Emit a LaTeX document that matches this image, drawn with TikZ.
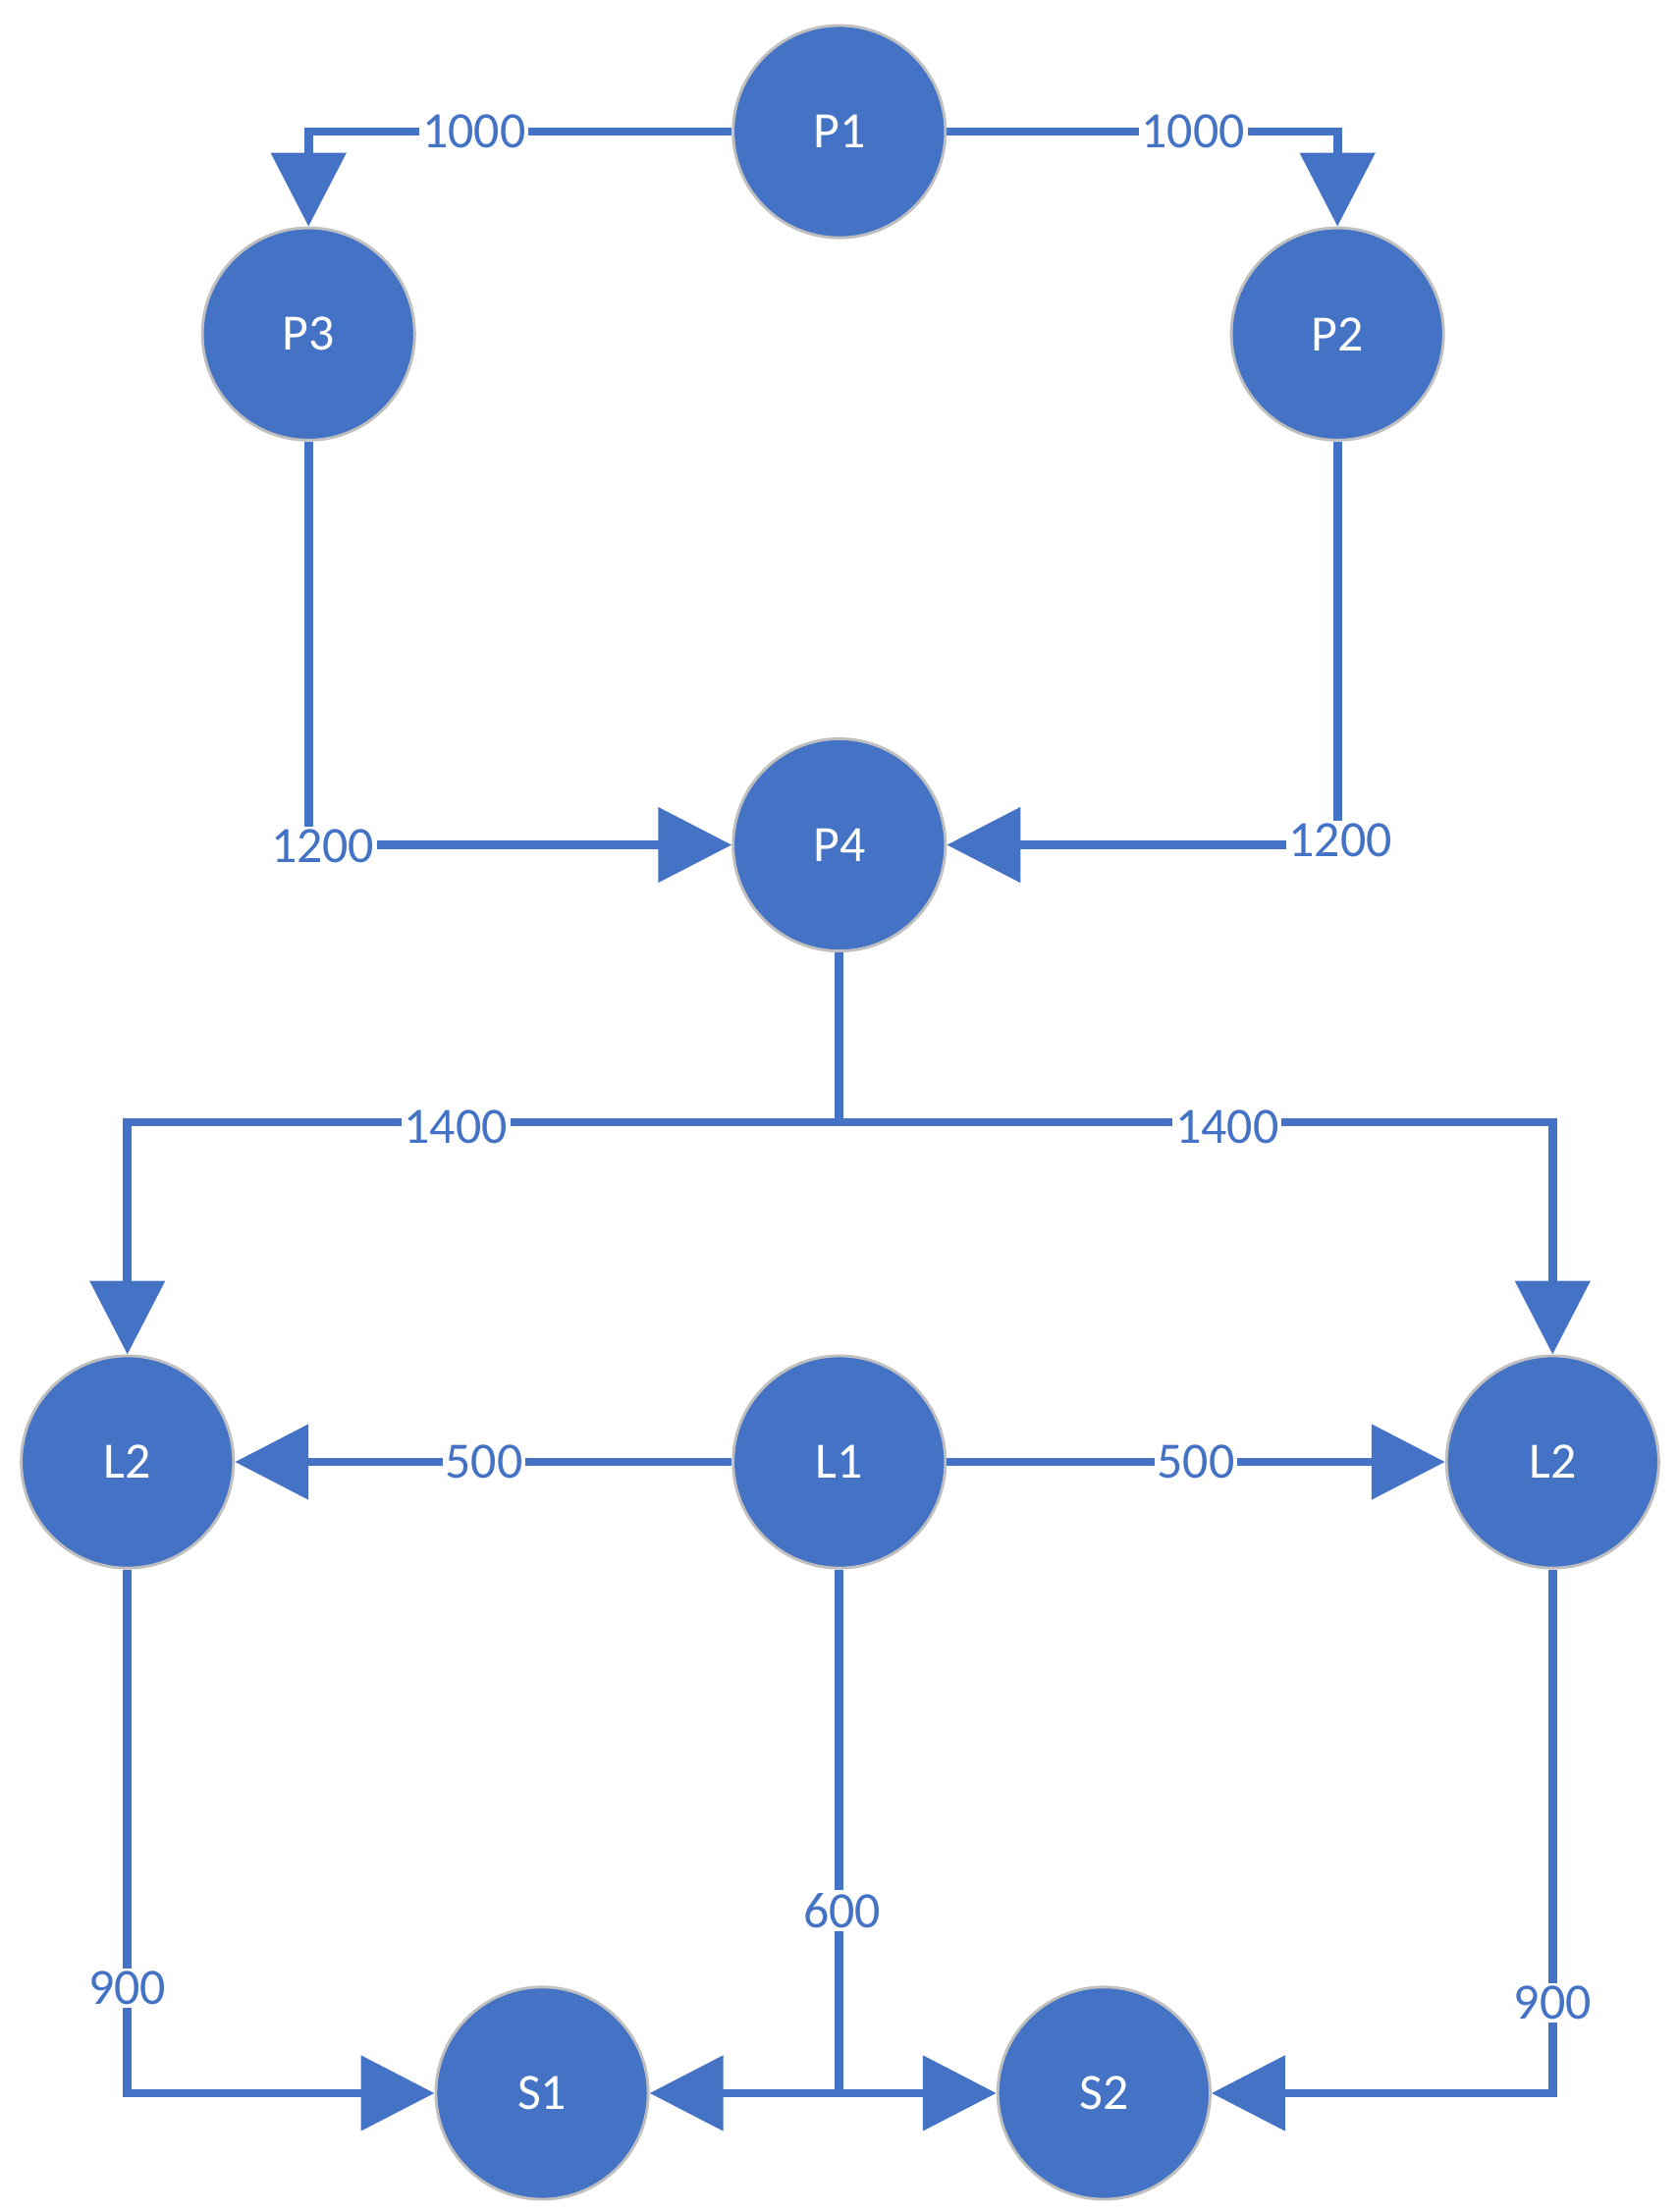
\documentclass[tikz,border=0pt]{standalone}
\usepackage{fontspec}
\setmainfont{Carlito}
\usetikzlibrary{arrows.meta}
\definecolor{bl}{HTML}{4472C4}
\begin{document}
\begin{tikzpicture}[x=0.5pt,y=-0.5pt,
 c/.style={circle,fill=bl,draw=black!25,line width=1pt,minimum size=75pt,inner sep=0pt,text=white,font=\fontsize{18}{20}\selectfont},
 e/.style={draw=bl,line width=3pt,-{Triangle[length=26pt,width=26pt]}},
 p/.style={draw=bl,line width=3pt},
 l/.style={fill=white,text=bl,inner sep=1pt,font=\fontsize{18}{20}\selectfont}]
\useasboundingbox (0,0) rectangle (1185,1563);
\node[c] (P1) at (593,93) {P1};
\node[c] (P3) at (218,236) {P3};
\node[c] (P2) at (945,236) {P2};
\node[c] (P4) at (593,597) {P4};
\node[c] (L2a) at (90,1033) {L2};
\node[c] (L1) at (593,1033) {L1};
\node[c] (L2b) at (1097,1033) {L2};
\node[c] (S1) at (383,1479) {S1};
\node[c] (S2) at (780,1479) {S2};
\coordinate (j1) at (593,793);
\coordinate (j2) at (593,1479);
\draw[e] (P1.west) -| (P3.north);
\draw[e] (P1.east) -| (P2.north);
\draw[e] (P3.south) |- (P4.west);
\draw[e] (P2.south) |- (P4.east);
\draw[p] (P4.south) -- (j1);
\draw[e] (j1) -| (L2a.north);
\draw[e] (j1) -| (L2b.north);
\draw[e] (L1.west) -- (L2a.east);
\draw[e] (L1.east) -- (L2b.west);
\draw[e] (L2a.south) |- (S1.west);
\draw[e] (L2b.south) |- (S2.east);
\draw[p] (L1.south) -- (j2);
\draw[e] (j2) -- (S1.east);
\draw[e] (j2) -- (S2.west);
\node[l] at (335,93) {1000};
\node[l] at (843,93) {1000};
\node[l] at (228,598) {1200};
\node[l] at (947,594) {1200};
\node[l] at (322,796) {1400};
\node[l] at (867,796) {1400};
\node[l] at (342,1033) {500};
\node[l] at (845,1033) {500};
\node[l] at (90,1405) {900};
\node[l] at (1097,1415) {900};
\node[l] at (595,1350) {600};
\end{tikzpicture}
\end{document}
